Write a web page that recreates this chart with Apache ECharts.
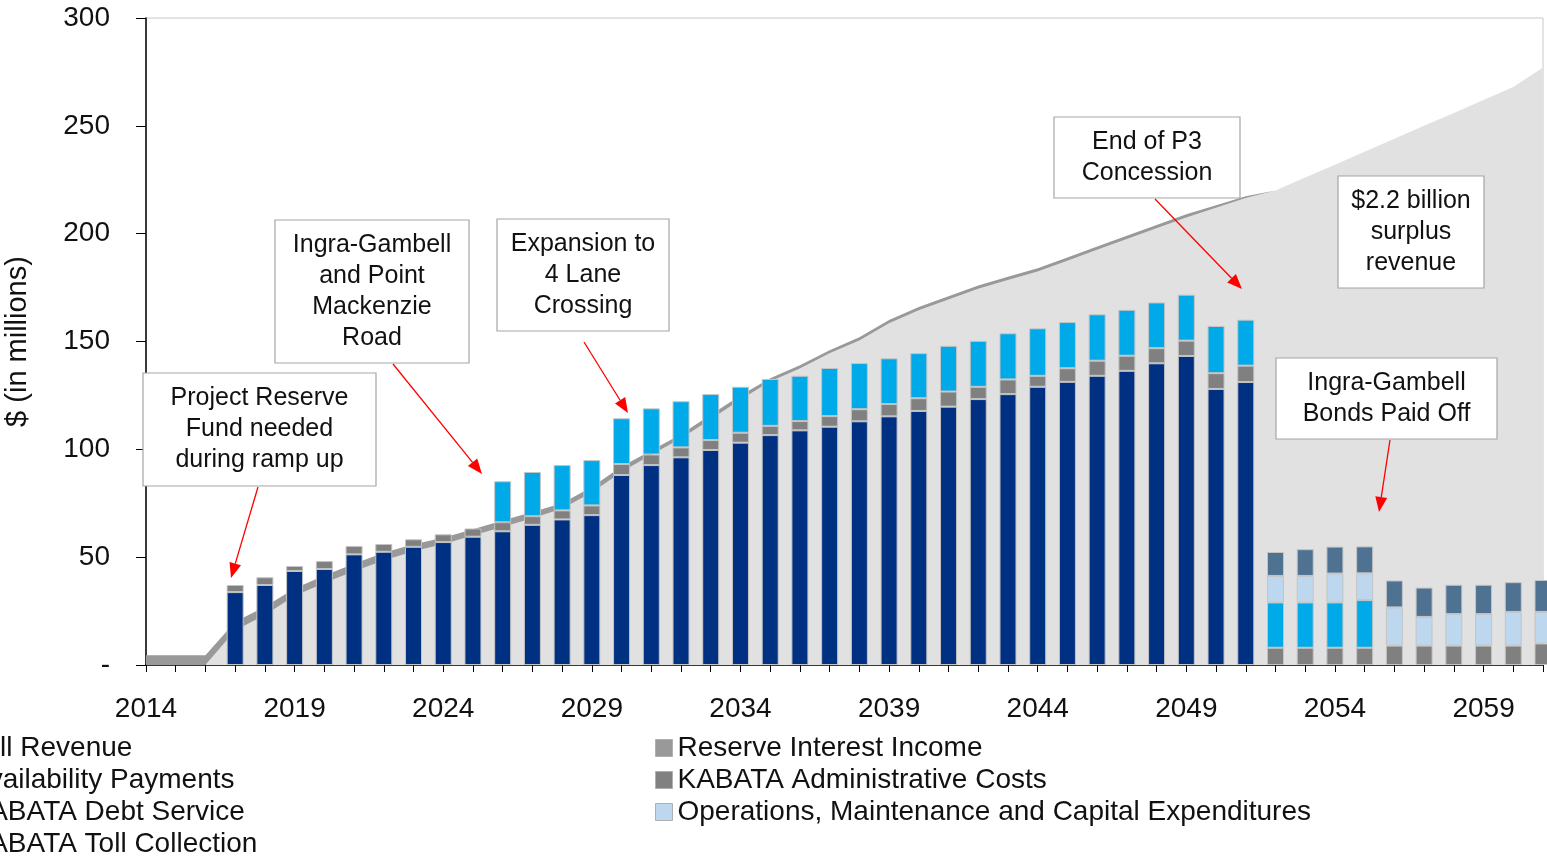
<!DOCTYPE html>
<html>
<head>
<meta charset="utf-8">
<title>KABATA cash flow</title>
<script src="https://cdn.jsdelivr.net/npm/echarts@6.0.0/dist/echarts.min.js"></script>
<style>
    html, body {margin: 0; padding: 0; background: #fff;}
    #main {width: 1547px; height: 859px;}
</style>
</head>
<body>
<div id="main"></div>
<script>
'use strict';

var FONT = '"Liberation Sans", Arial, sans-serif';

var years = [
    '2014', '2015', '2016', '2017', '2018', '2019', '2020', '2021', '2022', '2023',
    '2024', '2025', '2026', '2027', '2028', '2029', '2030', '2031', '2032', '2033',
    '2034', '2035', '2036', '2037', '2038', '2039', '2040', '2041', '2042', '2043',
    '2044', '2045', '2046', '2047', '2048', '2049', '2050', '2051', '2052', '2053',
    '2054', '2055', '2056', '2057', '2058', '2059', '2060', '2061'
];

// 收入（面积）
var tollRevenue = [
    0, 0, 0, 16, 23.2, 32, 38, 43.5, 48.5, 52.7,
    56, 60, 64, 68, 72.5, 80, 89.5, 97.5, 105, 114,
    123, 131.5, 137.5, 144.5, 150.5, 158.5, 164.5, 169.5, 174.5, 178.5,
    182.5, 187.5, 192.5, 197.5, 202.5, 207.5, 212, 216.5, 220, 226,
    232, 238, 244, 250, 256, 262, 268, 277
];
var reserveInterest = [
    4.5, 4.5, 4.5, 4, 3.8, 3.5, 3.5, 3.5, 3.5, 3.3,
    3, 3, 3, 3, 2.5, 2.5, 2.5, 2, 2, 2,
    2, 1.5, 1.5, 1.5, 1.5, 1.5, 1.5, 1.5, 1.5, 1.5,
    1.5, 1.5, 1.5, 1.5, 1.5, 1.5, 1.2, 0.8, 0, 0,
    0, 0, 0, 0, 0, 0, 0, 0
];

// 支出（柱）
var availabilityPayments = [
    null, null, null, 33.8, 37.1, 43.6, 44.5, 51.3, 52.5, 54.8,
    57, 59.5, 62, 65, 67.5, 69.5, 88.1, 92.7, 96.3, 99.7,
    103.1, 106.6, 108.8, 110.5, 113, 115.3, 117.8, 119.8, 123.3, 125.6,
    129, 131.3, 134.1, 136.4, 139.9, 143.3, 128, 131.2, null, null,
    null, null, null, null, null, null, null, null
];
var adminCosts = [
    null, null, null, 3.3, 3.6, 2.3, 3.7, 3.9, 3.6, 3.5,
    3.6, 3.8, 4.2, 4, 4.2, 4.5, 5.1, 4.9, 4.6, 4.6,
    4.6, 4.3, 4.3, 4.9, 5.6, 5.7, 5.9, 7, 5.7, 6.8,
    5.1, 6.3, 7, 7, 7, 7.1, 7.3, 7.6, 8, 8,
    8, 8, 9, 9, 9, 9, 9, 10
];
var debtService = [
    null, null, null, null, null, null, null, null, null, null,
    null, null, 19, 20.5, 21, 21, 21.2, 21.4, 21.4, 21.3,
    21.3, 21.7, 21, 22.3, 21.4, 21.2, 20.9, 21.2, 21.3, 21.4,
    22, 21.4, 21.5, 21.3, 21.2, 21.3, 21.9, 21.3, 21, 21,
    21, 22.1, null, null, null, null, null, null
];
var operationsCapex = [
    null, null, null, null, null, null, null, null, null, null,
    null, null, null, null, null, null, null, null, null, null,
    null, null, null, null, null, null, null, null, null, null,
    null, null, null, null, null, null, null, null, 12.3, 12.3,
    13.4, 12.4, 17.7, 13.3, 14.6, 14.6, 15.6, 14.6
];
var tollCollection = [
    null, null, null, null, null, null, null, null, null, null,
    null, null, null, null, null, null, null, null, null, null,
    null, null, null, null, null, null, null, null, null, null,
    null, null, null, null, null, null, null, null, 11.1, 12.4,
    12.5, 12.5, 12.5, 13.6, 13.6, 13.6, 13.8, 14.8
];

var yTicks = [0, 50, 100, 150, 200, 250, 300];

function area(name, data, color) {
    return {
        name: name,
        type: 'line',
        stack: 'revenue',
        data: data,
        z: 1,
        symbol: 'none',
        lineStyle: {width: 0},
        itemStyle: {color: color},
        areaStyle: {color: color, opacity: 1}
    };
}

function bar(name, data, color) {
    return {
        name: name,
        type: 'bar',
        stack: 'cost',
        data: data,
        z: 3,
        barWidth: 17,
        itemStyle: {color: color, borderColor: '#c4c4c4', borderWidth: 1}
    };
}

// 注释框 + 红色箭头
function note(x, y, w, h, text) {
    return [
        {
            type: 'rect',
            shape: {x: x, y: y, width: w, height: h},
            style: {fill: '#fff', stroke: '#a6a6a6', lineWidth: 1.2},
            z: 10
        },
        {
            type: 'text',
            x: x + w / 2,
            y: y + h / 2,
            z: 11,
            style: {
                text: text,
                font: '25px ' + FONT,
                fill: '#111',
                textAlign: 'center',
                textVerticalAlign: 'middle',
                align: 'center',
                verticalAlign: 'middle',
                lineHeight: 31
            }
        }
    ];
}

function arrow(x1, y1, x2, y2) {
    var dx = x2 - x1;
    var dy = y2 - y1;
    var len = Math.sqrt(dx * dx + dy * dy);
    var ux = dx / len;
    var uy = dy / len;
    var head = 15;
    var half = 6;
    var bx = x2 - ux * head;
    var by = y2 - uy * head;
    return [
        {
            type: 'line',
            shape: {x1: x1, y1: y1, x2: bx, y2: by},
            style: {stroke: '#ff0000', lineWidth: 1.3},
            z: 10
        },
        {
            type: 'polygon',
            shape: {points: [[x2, y2], [bx - uy * half, by + ux * half], [bx + uy * half, by - ux * half]]},
            style: {fill: '#ff0000'},
            z: 10
        }
    ];
}

var graphics = [].concat(
    note(143, 373, 233, 113, 'Project Reserve\nFund needed\nduring ramp up'),
    arrow(258, 487, 231, 578),
    note(275, 220, 194, 143, 'Ingra-Gambell\nand Point\nMackenzie\nRoad'),
    arrow(393, 364, 482, 474),
    note(497, 219, 172, 112, 'Expansion to\n4 Lane\nCrossing'),
    arrow(584, 342, 628, 413),
    note(1054, 117, 186, 81, 'End of P3\nConcession'),
    arrow(1155, 199, 1242, 289),
    note(1338, 176, 146, 112, '$2.2 billion\nsurplus\nrevenue'),
    note(1276, 358, 221, 81, 'Ingra-Gambell\nBonds Paid Off'),
    arrow(1390, 440, 1379, 512)
);

var legendText = {fontSize: 28, fontFamily: FONT, color: '#111', lineHeight: 27};

var chart = echarts.init(document.getElementById('main'), null, {renderer: 'canvas'});

chart.setOption({
    animation: false,
    textStyle: {fontFamily: FONT},
    grid: {
        left: 146,
        right: 4,
        top: 18,
        bottom: 194,
        containLabel: false,
        outerBoundsMode: 'none',
        show: true,
        borderColor: '#c8c8c8',
        borderWidth: 1
    },
    legend: [
        {
            orient: 'vertical',
            left: -52,
            top: 734,
            height: 160,
            padding: 0,
            itemGap: 4,
            itemWidth: 17,
            itemHeight: 17,
            icon: 'rect',
            itemStyle: {borderColor: '#b0b0b0', borderWidth: 1},
            textStyle: legendText,
            data: ['Toll Revenue', 'Availability Payments', 'KABATA Debt Service', 'KABATA Toll Collection']
        },
        {
            orient: 'vertical',
            left: 655,
            top: 734,
            height: 160,
            padding: 0,
            itemGap: 4,
            itemWidth: 17,
            itemHeight: 17,
            icon: 'rect',
            itemStyle: {borderColor: '#b0b0b0', borderWidth: 1},
            textStyle: legendText,
            data: ['Reserve Interest Income', 'KABATA Administrative Costs',
                'Operations, Maintenance and Capital Expenditures']
        }
    ],
    xAxis: {
        type: 'category',
        data: years,
        boundaryGap: false,
        axisLine: {lineStyle: {color: '#000', width: 1.5}},
        axisTick: {interval: 0, length: 7, lineStyle: {color: '#000'}},
        axisLabel: {
            interval: 4,
            margin: 30,
            fontSize: 28,
            color: '#111',
            fontFamily: FONT
        },
        splitLine: {show: false}
    },
    yAxis: {
        type: 'value',
        min: yTicks[0],
        max: yTicks[yTicks.length - 1],
        interval: yTicks[1] - yTicks[0],
        name: '$ (in millions)',
        nameLocation: 'middle',
        nameGap: 114,
        nameRotate: 90,
        nameTextStyle: {fontSize: 29, color: '#111', fontFamily: FONT},
        axisLine: {show: true, lineStyle: {color: '#000', width: 1.5}},
        axisTick: {show: true, length: 10, lineStyle: {color: '#000'}},
        axisLabel: {
            margin: 36,
            fontSize: 28,
            color: '#111',
            fontFamily: FONT,
            formatter: function (v) {
                return v === 0 ? '-' : String(v);
            }
        },
        splitLine: {show: false}
    },
    series: [
        area('Toll Revenue', tollRevenue, '#e1e1e1'),
        area('Reserve Interest Income', reserveInterest, '#999999'),
        bar('Availability Payments', availabilityPayments, '#003082'),
        bar('KABATA Administrative Costs', adminCosts, '#808080'),
        bar('KABATA Debt Service', debtService, '#00a9e8'),
        bar('Operations, Maintenance and Capital Expenditures', operationsCapex, '#bdd7ee'),
        bar('KABATA Toll Collection', tollCollection, '#4f7292')
    ],
    graphic: graphics
});
</script>
</body>
</html>
